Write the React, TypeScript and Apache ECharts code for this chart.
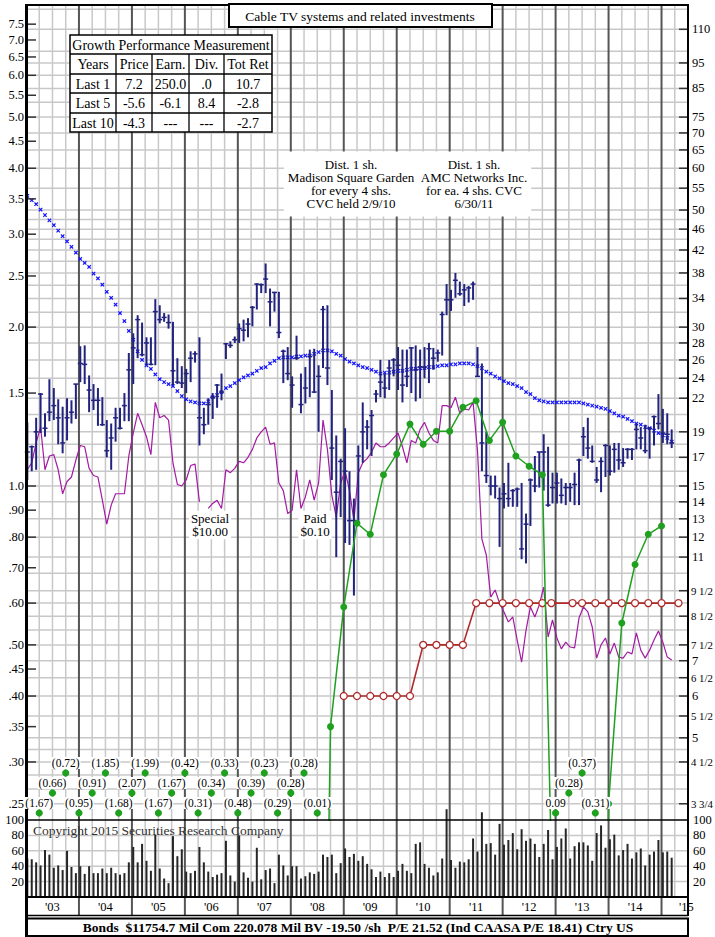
import React, { useEffect, useRef } from 'react';
import * as echarts from 'echarts';

const FONT = '"Liberation Serif", "Times New Roman", serif';

// ---------- monthly data, Jan 2003 .. Mar 2015 ----------
const priceHigh = [
  19.8, 17.9, 20.2, 22.5, 20.6, 23.9, 23.0, 21.9, 21.2, 22.0, 21.8, 23.4,
  27.6, 27.7, 24.3, 23.4, 23.0, 22.1, 20.0, 19.7, 21.1, 21.1, 22.5, 26.8,
  29.2, 31.6, 30.6, 28.7, 28.7, 33.9, 33.0, 31.9, 31.7, 30.7, 26.2, 25.3,
  25.0, 27.0, 27.0, 28.7, 21.1, 22.0, 22.5, 23.4, 24.5, 28.0, 28.2, 28.8,
  30.5, 31.0, 31.2, 32.9, 36.3, 36.3, 39.6, 35.5, 35.0, 35.0, 27.2, 27.5,
  24.2, 28.9, 24.5, 25.2, 27.2, 27.3, 25.4, 32.9, 33.0, 22.8, 18.7, 16.9,
  19.3, 16.0, 14.2, 17.9, 21.6, 20.0, 20.9, 22.8, 26.0, 24.5, 26.0, 26.2,
  27.5, 27.2, 27.2, 27.5, 27.7, 27.2, 27.5, 28.0, 27.4, 27.2, 32.1, 36.2,
  35.3, 38.0, 36.6, 36.2, 35.9, 36.6, 27.5, 25.6, 19.0, 15.7, 15.7, 14.9,
  15.2, 16.6, 14.8, 14.9, 15.2, 13.3, 15.5, 17.1, 17.4, 18.8, 17.8, 15.9,
  15.9, 15.5, 15.2, 15.2, 15.9, 16.9, 19.4, 20.2, 17.9, 16.3, 17.0, 18.0,
  17.9, 18.1, 18.1, 17.7, 17.7, 17.7, 19.7, 19.4, 19.6, 19.4, 20.4, 22.4,
  21.0, 20.6, 19.2,
];
const priceLow = [
  15.4, 16.0, 16.1, 18.9, 18.6, 19.9, 20.0, 18.0, 17.3, 18.3, 19.7, 20.1,
  23.6, 23.4, 20.7, 20.9, 19.5, 19.5, 17.0, 16.1, 18.2, 19.2, 19.9, 19.9,
  23.4, 26.2, 26.4, 25.4, 25.4, 25.4, 30.5, 30.7, 29.8, 23.3, 23.4, 23.0,
  22.5, 23.6, 25.7, 17.9, 18.8, 19.6, 20.1, 21.1, 21.8, 26.1, 27.4, 28.0,
  28.0, 28.2, 28.7, 30.1, 32.4, 34.8, 34.8, 30.1, 32.1, 28.6, 23.5, 23.8,
  21.1, 26.0, 20.6, 21.5, 22.1, 22.5, 19.0, 25.1, 23.3, 15.4, 11.0, 13.1,
  11.7, 11.6, 9.3, 12.7, 16.6, 17.6, 17.1, 21.6, 22.1, 22.0, 22.8, 24.2,
  22.8, 21.6, 23.1, 22.5, 21.7, 22.0, 24.0, 23.5, 24.9, 25.8, 26.5, 31.6,
  32.2, 34.1, 34.4, 32.9, 33.4, 33.8, 24.2, 16.0, 15.2, 14.4, 14.2, 11.5,
  13.6, 13.7, 13.7, 13.7, 10.9, 10.7, 12.6, 14.6, 14.9, 14.7, 13.7, 13.9,
  13.9, 13.9, 13.8, 14.0, 13.8, 13.8, 17.1, 16.9, 16.6, 15.2, 14.6, 15.6,
  15.7, 15.9, 16.1, 16.3, 16.9, 16.8, 17.6, 17.6, 17.3, 16.9, 17.9, 19.2,
  18.1, 18.0, 17.7,
];
const priceClose = [
  17.4, 17.8, 19.0, 22.4, 19.3, 20.7, 21.3, 20.2, 18.1, 20.2, 20.7, 23.4,
  25.6, 25.5, 22.8, 21.8, 21.8, 19.6, 17.5, 18.5, 20.2, 19.3, 21.3, 24.9,
  27.4, 31.0, 26.6, 28.0, 25.5, 32.1, 31.0, 31.3, 30.6, 24.8, 23.6, 23.5,
  24.5, 26.2, 26.7, 20.2, 19.6, 21.4, 22.1, 23.3, 22.6, 27.9, 27.7, 28.4,
  29.8, 29.6, 30.4, 32.7, 36.2, 36.1, 37.0, 33.5, 34.9, 29.3, 27.0, 24.5,
  23.3, 26.2, 21.4, 23.0, 26.4, 22.6, 24.2, 32.4, 25.1, 17.7, 14.6, 16.7,
  16.0, 12.9, 12.9, 17.1, 19.0, 19.4, 20.4, 22.4, 23.6, 23.0, 25.1, 26.0,
  25.4, 23.3, 24.2, 27.4, 24.9, 25.2, 25.2, 27.3, 26.2, 26.8, 31.7, 33.8,
  33.8, 36.8, 34.7, 35.3, 35.6, 36.2, 24.2, 18.1, 15.7, 15.0, 15.0, 14.2,
  14.5, 14.2, 14.7, 14.8, 11.4, 12.7, 15.4, 15.0, 17.4, 17.4, 13.8, 14.9,
  15.2, 14.4, 14.9, 14.9, 15.1, 16.8, 18.6, 17.7, 16.7, 15.4, 16.7, 17.9,
  16.0, 17.6, 16.8, 16.6, 17.6, 17.6, 19.2, 18.5, 17.5, 19.3, 20.3, 19.7,
  18.9, 18.8, 18.1,
];
const movingAvg = [
  53.2, 52.2, 51.3, 50.1, 48.9, 47.8, 46.8, 45.7, 44.6, 43.6, 42.6, 41.5,
  40.4, 39.7, 39.0, 37.9, 37.1, 36.1, 35.0, 34.1, 33.1, 31.9, 30.8, 29.5,
  28.4, 27.0, 26.0, 25.4, 25.0, 24.4, 23.9, 23.6, 23.4, 23.2, 22.7, 22.2,
  21.9, 21.7, 21.6, 21.5, 21.5, 21.7, 22.1, 22.3, 22.6, 23.0, 23.2, 23.5,
  23.8, 24.1, 24.3, 24.5, 24.8, 25.1, 25.2, 25.6, 25.9, 26.2, 26.3, 26.3,
  26.3, 26.4, 26.4, 26.5, 26.5, 26.7, 26.9, 27.1, 27.1, 27.0, 26.7, 26.5,
  26.1, 25.8, 25.6, 25.4, 25.2, 25.1, 24.9, 24.7, 24.5, 24.6, 24.6, 24.7,
  24.8, 24.8, 24.9, 25.0, 25.0, 25.1, 25.1, 25.2, 25.2, 25.3, 25.4, 25.4,
  25.5, 25.5, 25.6, 25.6, 25.6, 25.5, 25.3, 25.1, 24.7, 24.5, 24.2, 24.0,
  23.7, 23.5, 23.4, 23.2, 23.0, 22.6, 22.4, 22.0, 21.8, 21.7, 21.6, 21.6,
  21.6, 21.6, 21.6, 21.6, 21.6, 21.6, 21.5, 21.4, 21.3, 21.2, 21.1, 21.0,
  20.8, 20.6, 20.4, 20.3, 20.1, 19.9, 19.7, 19.6, 19.4, 19.3, 19.1, 18.9,
  18.7, 18.5, 18.2,
];
const relStrength = [
  16.1, 16.6, 18.1, 19.4, 16.1, 17.1, 17.2, 16.1, 14.5, 15.3, 15.6, 16.8,
  17.9, 17.8, 16.2, 15.7, 15.6, 14.1, 12.7, 13.8, 14.5, 14.5, 14.5, 17.1,
  18.9, 20.6, 19.6, 18.6, 17.2, 21.6, 20.2, 20.4, 20.0, 16.6, 15.1, 15.0,
  15.4, 16.4, 16.5, 14.0, null, 13.6, 13.9, 14.1, 13.6, 16.1, 15.9, 16.2,
  16.7, 16.6, 17.0, 17.6, 18.5, 19.0, 19.4, 18.0, 18.1, 15.2, 14.7, 13.3,
  13.5, 16.1, 13.6, 14.3, 15.4, 14.1, 15.2, 20.0, 17.6, 14.4, 13.1, 15.2,
  16.0, 14.7, 12.9, 15.9, 16.6, 16.9, 17.4, 18.1, 17.8, 17.8, 18.1, 18.5,
  18.9, 17.8, 16.6, 18.3, 18.1, 19.2, 19.8, 18.9, 18.3, 18.1, 21.3, 21.3,
  21.1, 22.1, 20.6, 21.0, 20.9, 21.6, 17.5, 11.9, 11.1, 9.24, 9.53, 9.0,
  8.66, 8.29, 8.47, 7.66, 6.96, 8.0, 8.85, 8.47, 8.93, 9.65, 7.76, 8.36,
  7.73, 7.37, 7.59, 7.43, 7.40, 8.43, 8.85, 8.66, 8.11, 7.08, 7.50, 7.73,
  7.21, 7.56, 7.11, 7.08, 7.27, 7.21, 7.90, 7.33, 7.08, 7.33, 7.66, 7.97,
  7.59, 7.11, 7.02,
];
const volume = [
  50, 49, 45, 41, 61, 55, 38, 41, 35, 60, 39, 31,
  40, 30, 40, 31, 31, 37, 31, 38, 31, 29, 31, 45,
  65, 45, 69, 47, 34, 81, 37, 24, 18, 79, 53, 62,
  33, 31, 34, 65, 45, 33, 26, 29, 31, 73, 28, 20,
  80, 32, 25, 20, 64, 23, 35, 37, 18, 55, 41, 28,
  40, 40, 24, 27, 32, 30, 33, 55, 52, 55, 31, 44,
  63, 52, 56, 47, 53, 43, 36, 26, 33, 26, 31, 26,
  34, 43, 34, 31, 69, 71, 43, 38, 28, 32, 50, 114,
  48, 38, 46, 45, 49, 76, 59, 110, 69, 70, 55, 95,
  68, 74, 83, 62, 88, 73, 76, 69, 52, 69, 87, 49,
  65, 76, 89, 50, 66, 71, 71, 67, 47, 83, 93, 64,
  75, 81, 54, 61, 69, 50, 58, 63, 41, 55, 59, 74,
  58, 59, 51,
];

// ---------- quarterly 12-month earnings, from 2003 Q1 ----------
const epsStart = 2003.25;
const quarterlyEps = [
  -1.67, -0.66, -0.72, -0.95, -0.91, -1.85, -1.68, -2.07, -1.99, -1.67, -1.67, -0.42,
  -0.31, -0.34, -0.33, -0.48, -0.39, -0.23, -0.29, -0.28, -0.28, -0.01, 0.35, 0.59,
  0.85, 0.81, 1.05, 1.15, 1.31, 1.20, 1.27, 1.27, 1.41, 1.45, 1.22, 1.32,
  1.14, 1.09, 1.05, 0.09, -0.28, -0.37, -0.31, 0.25, 0.55, 0.71, 0.81, 0.84,
];

// ---------- annual dividend rate ----------
const divDates = [
  2009.0, 2009.25, 2009.5, 2009.75, 2010.0, 2010.25, 2010.5, 2010.75, 2011.0, 2011.25,
  2011.5, 2011.75, 2012.0, 2012.25, 2012.5, 2012.75, 2012.92, 2013.32, 2013.5, 2013.75,
  2014.0, 2014.25, 2014.5, 2014.75, 2015.0, 2015.32,
];
const divValues = [
  0.40, 0.40, 0.40, 0.40, 0.40, 0.40, 0.50, 0.50, 0.50, 0.50,
  0.60, 0.60, 0.60, 0.60, 0.60, 0.60, 0.60, 0.60, 0.60, 0.60,
  0.60, 0.60, 0.60, 0.60, 0.60, 0.60,
];

// ---------- scales & labels ----------
const leftTickLabels = ['7.5', '7.0', '6.5', '6.0', '5.5', '5.0', '4.5', '4.0', '3.5', '3.0', '2.5', '2.0',
  '1.5', '1.0', '.90', '.80', '.70', '.60', '.50', '.45', '.40', '.35', '.30', '.25'];
const rightTickLabels = ['110', '95', '85', '75', '70', '65', '60', '55', '50', '46', '42', '38', '34',
  '30', '28', '26', '24', '22', '19', '17', '15', '14', '13', '12', '11', '9 1/2', '8 1/2', '7 1/2',
  '7', '6 1/2', '6', '5 1/2', '5', '4 1/2', '3 3/4'];
const gridPrices = [120, 110, 100, 95, 90, 85, 80, 75, 70, 65, 60, 55, 50, 48, 46, 44, 42, 40, 38, 36,
  34, 32, 30, 28, 26, 24, 22, 20.5, 19, 18, 17, 16, 15, 14, 13, 12, 11, 10.25, 9.5, 9, 8.5, 8, 7.5, 7,
  6.5, 6, 5.5, 5, 4.75, 4.5, 4.25, 4, 3.75];
const volTickLabels = ['100', '80', '60', '40', '20'];
const yearLabels = ["'03", "'04", "'05", "'06", "'07", "'08", "'09", "'10", "'11", "'12", "'13", "'14", "'15"];

const growthTitle = 'Growth Performance Measurement';
const growthHeader = ['Years', 'Price', 'Earn.', 'Div.', 'Tot Ret'];
const growthRows = [
  ['Last 1', '7.2', '250.0', '.0', '10.7'],
  ['Last 5', '-5.6', '-6.1', '8.4', '-2.8'],
  ['Last 10', '-4.3', '---', '---', '-2.7'],
];

const EPS_MIN = 0.2329;
const EPS_MAX = 8.154;
const PRICE_RATIO = 15;
const PRICE_MIN = EPS_MIN * PRICE_RATIO;
const PRICE_MAX = EPS_MAX * PRICE_RATIO;
const EPS_FLOOR = 0.01; // stand-in for negative earnings (below the scale)

function monthT(m: number) { return 2003 + (m + 0.3) / 12; }
function parseFrac(s: string) {
  const parts = s.split(' ');
  let v = parseFloat(parts[0]);
  if (parts[1]) { const [a, b] = parts[1].split('/'); v += Number(a) / Number(b); }
  return v;
}

function buildOption() {
  const L = 26, R = 688, TOP = 5, MAIN_B = 820, VOL_B = 897;
  const LIGHT = '#c8c8c8', DARK = '#555555';
  const NAVY = '#22237f', BLUE = '#1414ff', MAG = '#a31aa3', GREEN = '#1fa01f', RED = '#b02a2a';
  const txt = (extra: any) => ({ fill: '#000', font: `12.5px ${FONT}`, ...extra });

  const quarterTicks: number[] = [];
  for (let q = 1; q < 50; q++) quarterTicks.push(2003 + q * 0.25);
  const isYear = (t: number) => Math.abs(t - Math.round(t)) < 1e-6;

  // earnings line: on-scale points plus the neighbours needed to show the drop off the scale
  const onScale = (v: number) => v >= EPS_MIN;
  const n = quarterlyEps.length;
  const earnLine = quarterlyEps.map((v, i) => {
    const t = epsStart + 0.25 * i;
    if (onScale(v)) return [t, v];
    const near = (i > 0 && onScale(quarterlyEps[i - 1])) || (i < n - 1 && onScale(quarterlyEps[i + 1]));
    return near ? [t, v > 0 ? v : EPS_FLOOR] : [t, '-'];
  });
  // labelled off-scale quarters, staggered in three rows
  const offPts: { t: number; v: number; level: number }[] = [];
  let runStart = -1;
  quarterlyEps.forEach((v, i) => {
    if (!onScale(v)) {
      if (runStart < 0 || !(i > 0 && !onScale(quarterlyEps[i - 1]))) runStart = i;
      offPts.push({ t: epsStart + 0.25 * i, v, level: (i - runStart) % 3 });
    }
  });

  const series: any[] = [
    // horizontal price grid
    {
      type: 'custom', xAxisIndex: 0, yAxisIndex: 1, silent: true, z: 1,
      data: gridPrices.map((p) => [2003, p]),
      renderItem: (params: any, api: any) => {
        const y = api.coord([2003, api.value(1)])[1];
        const cs = params.coordSys;
        return { type: 'line', shape: { x1: cs.x, y1: y, x2: cs.x + cs.width, y2: y }, style: { stroke: LIGHT, lineWidth: 1.5 } };
      },
    },
    // vertical grid (main)
    {
      type: 'custom', xAxisIndex: 0, yAxisIndex: 1, silent: true, z: 1,
      data: quarterTicks.map((t) => [t, 10]),
      renderItem: (params: any, api: any) => {
        const t = api.value(0);
        const x = api.coord([t, 10])[0];
        const cs = params.coordSys;
        const yr = isYear(t);
        return { type: 'line', shape: { x1: x, y1: cs.y, x2: x, y2: cs.y + cs.height }, style: { stroke: yr ? DARK : LIGHT, lineWidth: yr ? 2 : 1.5 } };
      },
    },
    // volume horizontal grid
    {
      type: 'custom', xAxisIndex: 1, yAxisIndex: 2, silent: true, z: 1,
      data: [20, 40, 60, 80].map((v) => [2003, v]),
      renderItem: (params: any, api: any) => {
        const y = api.coord([2003, api.value(1)])[1];
        const cs = params.coordSys;
        return { type: 'line', shape: { x1: cs.x, y1: y, x2: cs.x + cs.width, y2: y }, style: { stroke: LIGHT, lineWidth: 1.5 } };
      },
    },
    // volume vertical grid, year lines continue through the label row
    {
      type: 'custom', xAxisIndex: 1, yAxisIndex: 2, silent: true, z: 1,
      data: quarterTicks.map((t) => [t, 50]),
      renderItem: (params: any, api: any) => {
        const t = api.value(0);
        const x = api.coord([t, 50])[0];
        const cs = params.coordSys;
        const yr = isYear(t);
        return { type: 'line', shape: { x1: x, y1: cs.y, x2: x, y2: cs.y + cs.height + (yr ? 18 : 0) }, style: { stroke: yr ? DARK : LIGHT, lineWidth: yr ? 2 : 1.5 } };
      },
    },
    // left (earnings) scale ticks
    {
      type: 'custom', xAxisIndex: 0, yAxisIndex: 0, silent: true, z: 8,
      data: leftTickLabels.map((s) => [2003, parseFloat(s)]),
      renderItem: (params: any, api: any) => {
        const y = api.coord([2003, api.value(1)])[1];
        const cs = params.coordSys;
        return {
          type: 'group', children: [
            { type: 'line', shape: { x1: cs.x, y1: y, x2: cs.x + 10, y2: y }, style: { stroke: '#333', lineWidth: 1.5 } },
            { type: 'text', x: cs.x - 2, y, style: txt({ text: leftTickLabels[params.dataIndex], align: 'right', verticalAlign: 'middle', textAlign: 'right', textVerticalAlign: 'middle' }) },
          ],
        };
      },
    },
    // right (price) scale ticks
    {
      type: 'custom', xAxisIndex: 0, yAxisIndex: 1, silent: true, z: 8,
      data: rightTickLabels.map((s) => [2015.5, parseFrac(s)]),
      renderItem: (params: any, api: any) => {
        const y = api.coord([2015.5, api.value(1)])[1];
        const cs = params.coordSys;
        const xr = cs.x + cs.width;
        const s = rightTickLabels[params.dataIndex];
        const frac = s.indexOf('/') >= 0;
        return {
          type: 'group', children: [
            { type: 'line', shape: { x1: xr - 9, y1: y, x2: xr, y2: y }, style: { stroke: '#333', lineWidth: 1.5 } },
            { type: 'text', x: xr + (frac ? 3 : 4), y, style: txt({ text: s, font: `${frac ? 10.8 : 12.5}px ${FONT}`, align: 'left', verticalAlign: 'middle', textAlign: 'left', textVerticalAlign: 'middle' }) },
          ],
        };
      },
    },
    // volume scale labels (both sides)
    {
      type: 'custom', xAxisIndex: 1, yAxisIndex: 2, silent: true, z: 8,
      data: volTickLabels.map((s) => [2003, parseFloat(s)]),
      renderItem: (params: any, api: any) => {
        const y = api.coord([2003, api.value(1)])[1];
        const cs = params.coordSys;
        const s = volTickLabels[params.dataIndex];
        return {
          type: 'group', children: [
            { type: 'text', x: cs.x - 2, y, style: txt({ text: s, align: 'right', verticalAlign: 'middle', textAlign: 'right', textVerticalAlign: 'middle' }) },
            { type: 'text', x: cs.x + cs.width + 5, y, style: txt({ text: s, align: 'left', verticalAlign: 'middle', textAlign: 'left', textVerticalAlign: 'middle' }) },
          ],
        };
      },
    },
    // year labels
    {
      type: 'custom', xAxisIndex: 1, yAxisIndex: 2, silent: true, z: 8,
      data: yearLabels.map((s, i) => [i < yearLabels.length - 1 ? 2003.5 + i : 2015.47, 0]),
      renderItem: (params: any, api: any) => {
        const x = api.coord([api.value(0), 0])[0];
        const cs = params.coordSys;
        return { type: 'text', x, y: cs.y + cs.height + 10, style: txt({ text: yearLabels[params.dataIndex], align: 'center', verticalAlign: 'middle', textAlign: 'center', textVerticalAlign: 'middle' }) };
      },
    },
    // volume bars
    {
      type: 'bar', xAxisIndex: 1, yAxisIndex: 2, barWidth: 2, clip: false, z: 3,
      data: volume.map((v, m) => [monthT(m), v]),
      itemStyle: { color: '#262626' },
    },
    // relative strength
    {
      type: 'line', xAxisIndex: 0, yAxisIndex: 1, z: 3, showSymbol: false, connectNulls: false,
      data: relStrength.map((v, m) => [monthT(m), v == null ? '-' : v]),
      lineStyle: { color: MAG, width: 1.2 },
    },
    // dividends
    {
      type: 'line', xAxisIndex: 0, yAxisIndex: 0, z: 4,
      data: divDates.map((t, i) => [t, divValues[i]]),
      symbol: 'circle', symbolSize: 7, showAllSymbol: true,
      itemStyle: { color: '#ffffff', borderColor: RED, borderWidth: 1.3 },
      lineStyle: { color: RED, width: 1.6 },
    },
    // moving average "x" markers
    {
      type: 'custom', xAxisIndex: 0, yAxisIndex: 1, z: 5, silent: true,
      data: movingAvg.map((v, m) => [monthT(m), v]),
      renderItem: (params: any, api: any) => {
        const p = api.coord([api.value(0), api.value(1)]);
        const s = 1.7;
        return {
          type: 'group', children: [
            { type: 'line', shape: { x1: p[0] - s, y1: p[1] - s, x2: p[0] + s, y2: p[1] + s }, style: { stroke: BLUE, lineWidth: 1.2 } },
            { type: 'line', shape: { x1: p[0] - s, y1: p[1] + s, x2: p[0] + s, y2: p[1] - s }, style: { stroke: BLUE, lineWidth: 1.2 } },
          ],
        };
      },
    },
    // monthly price bars
    {
      type: 'custom', xAxisIndex: 0, yAxisIndex: 1, z: 6, silent: true,
      encode: { x: 0, y: [1, 2, 3] },
      data: priceHigh.map((h, m) => [monthT(m), h, priceLow[m], priceClose[m]]),
      renderItem: (params: any, api: any) => {
        const t = api.value(0);
        const hi = api.coord([t, api.value(1)]);
        const lo = api.coord([t, api.value(2)]);
        const cl = api.coord([t, api.value(3)]);
        return {
          type: 'group', children: [
            { type: 'line', shape: { x1: hi[0], y1: hi[1], x2: lo[0], y2: lo[1] }, style: { stroke: NAVY, lineWidth: 2 } },
            { type: 'line', shape: { x1: cl[0] - 2.5, y1: cl[1], x2: cl[0] + 2.5, y2: cl[1] }, style: { stroke: NAVY, lineWidth: 1.5 } },
          ],
        };
      },
    },
    // earnings line
    {
      type: 'line', xAxisIndex: 0, yAxisIndex: 0, z: 7, clip: true, connectNulls: false,
      data: earnLine, symbol: 'circle', symbolSize: 7, showAllSymbol: true,
      itemStyle: { color: GREEN }, lineStyle: { color: GREEN, width: 1.5 },
    },
    // off-scale earnings shown as labelled dots
    {
      type: 'custom', xAxisIndex: 0, yAxisIndex: 0, z: 70, silent: true,
      data: offPts.map((p) => [p.t, 1]),
      renderItem: (params: any, api: any) => {
        const p = offPts[params.dataIndex];
        const x = api.coord([p.t, 1])[0];
        const cs = params.coordSys;
        const y = cs.y + cs.height - 7 - 20 * p.level;
        const label = p.v < 0 ? `(${(-p.v).toFixed(2)})` : p.v.toFixed(2);
        return {
          type: 'group', children: [
            { type: 'circle', shape: { cx: x, cy: y, r: 3.6 }, style: { fill: GREEN } },
            { type: 'text', x, y: y - 10, style: { text: label, font: `11.5px ${FONT}`, fill: '#000', align: 'center', verticalAlign: 'middle', textAlign: 'center', textVerticalAlign: 'middle', backgroundColor: '#fff', padding: [0, 1] } },
          ],
        };
      },
    },
  ];

  const line = (x1: number, y1: number, x2: number, y2: number, w: number, color = '#000') =>
    ({ type: 'line', z: 50, silent: true, shape: { x1, y1, x2, y2 }, style: { stroke: color, lineWidth: w } });
  const text = (x: number, y: number, s: string, extra: any = {}) => ({
    type: 'text', x, y, z: 60, silent: true,
    style: { text: s, fill: '#000', font: `14px ${FONT}`, align: 'center', verticalAlign: 'middle', textAlign: 'center', textVerticalAlign: 'middle', ...extra },
  });

  // growth table geometry
  const colX = [70, 116, 152, 189, 224, 272];
  const rowY = [35, 54, 74, 93, 113, 132];
  const tableEls: any[] = [
    { type: 'rect', z: 55, silent: true, shape: { x: colX[0], y: rowY[0], width: colX[5] - colX[0], height: rowY[5] - rowY[0] }, style: { fill: '#fff', stroke: '#000', lineWidth: 1.5 } },
  ];
  for (let r = 1; r < 5; r++) tableEls.push({ ...line(colX[0], rowY[r], colX[5], rowY[r], 1.3), z: 56 });
  for (let c = 1; c < 5; c++) tableEls.push({ ...line(colX[c], rowY[1], colX[c], rowY[5], 1.3), z: 56 });
  tableEls.push(text((colX[0] + colX[5]) / 2, (rowY[0] + rowY[1]) / 2 + 0.5, growthTitle));
  [growthHeader, ...growthRows].forEach((row, r) => {
    row.forEach((s, c) => tableEls.push(text((colX[c] + colX[c + 1]) / 2, (rowY[r + 1] + rowY[r + 2]) / 2 + 0.5, s)));
  });

  const graphicEls: any[] = [
    // frame
    line(26.5, 4, 26.5, 937, 3),
    line(26, 5, 689, 5, 2),
    line(688, 5, 688, 916, 2),
    line(26, 820, 688, 820, 1.5),
    line(26, 897, 688, 897, 2),
    line(26, 915.5, 688, 915.5, 1.5),
    { type: 'rect', z: 50, silent: true, shape: { x: 26, y: 918.5, width: 662, height: 17.5 }, style: { fill: 'none', stroke: '#000', lineWidth: 2 } },
    text(358, 927.5, 'Bonds  $11754.7 Mil Com 220.078 Mil BV -19.50 /sh  P/E 21.52 (Ind CAASA P/E 18.41) Ctry US', { font: `bold 13.5px ${FONT}` }),
    // title
    { type: 'rect', z: 55, silent: true, shape: { x: 229, y: 4, width: 263, height: 23 }, style: { fill: '#fff', stroke: '#000', lineWidth: 2 } },
    text(360, 16, 'Cable TV systems and related investments', { font: `13.5px ${FONT}` }),
    ...tableEls,
    // notes
    text(351, 184, 'Dist. 1 sh.\nMadison Square Garden\nfor every 4 shs.\nCVC held 2/9/10', { font: `13px ${FONT}`, lineHeight: 13.3, backgroundColor: '#fff', padding: [6, 4] }),
    text(474, 184, 'Dist. 1 sh.\nAMC Networks Inc.\nfor ea. 4 shs. CVC\n6/30/11', { font: `13px ${FONT}`, lineHeight: 13.3, backgroundColor: '#fff', padding: [6, 4] }),
    text(210, 525, 'Special\n$10.00', { font: `13px ${FONT}`, lineHeight: 13.3, backgroundColor: '#fff', padding: [1, 2] }),
    text(315, 525, 'Paid\n$0.10', { font: `13px ${FONT}`, lineHeight: 13.3, backgroundColor: '#fff', padding: [1, 2] }),
    text(33, 830, 'Copyright 2015 Securities Research Company', { font: `13.5px ${FONT}`, fill: '#333', align: 'left', textAlign: 'left' }),
  ];

  return {
    animation: false,
    backgroundColor: '#ffffff',
    grid: [
      { left: L, top: TOP, width: R - L, height: MAIN_B - TOP },
      { left: L, top: MAIN_B, width: R - L, height: VOL_B - MAIN_B },
    ],
    xAxis: [
      { gridIndex: 0, type: 'value', min: 2003, max: 2015.5, show: false },
      { gridIndex: 1, type: 'value', min: 2003, max: 2015.5, show: false },
    ],
    yAxis: [
      { gridIndex: 0, type: 'log', logBase: 10, min: EPS_MIN, max: EPS_MAX, show: false },
      { gridIndex: 0, type: 'log', logBase: 10, min: PRICE_MIN, max: PRICE_MAX, show: false },
      { gridIndex: 1, type: 'value', min: 0, max: 100, show: false },
    ],
    series,
    graphic: { elements: graphicEls },
  };
}

export default function App() {
  const ref = useRef<HTMLDivElement>(null);
  useEffect(() => {
    document.body.style.margin = '0';
    const chart = echarts.init(ref.current as HTMLDivElement, null, { renderer: 'svg' });
    chart.setOption(buildOption() as any);
    return () => chart.dispose();
  }, []);
  return <div ref={ref} style={{ width: 715, height: 937, background: '#fff' }} />;
}
